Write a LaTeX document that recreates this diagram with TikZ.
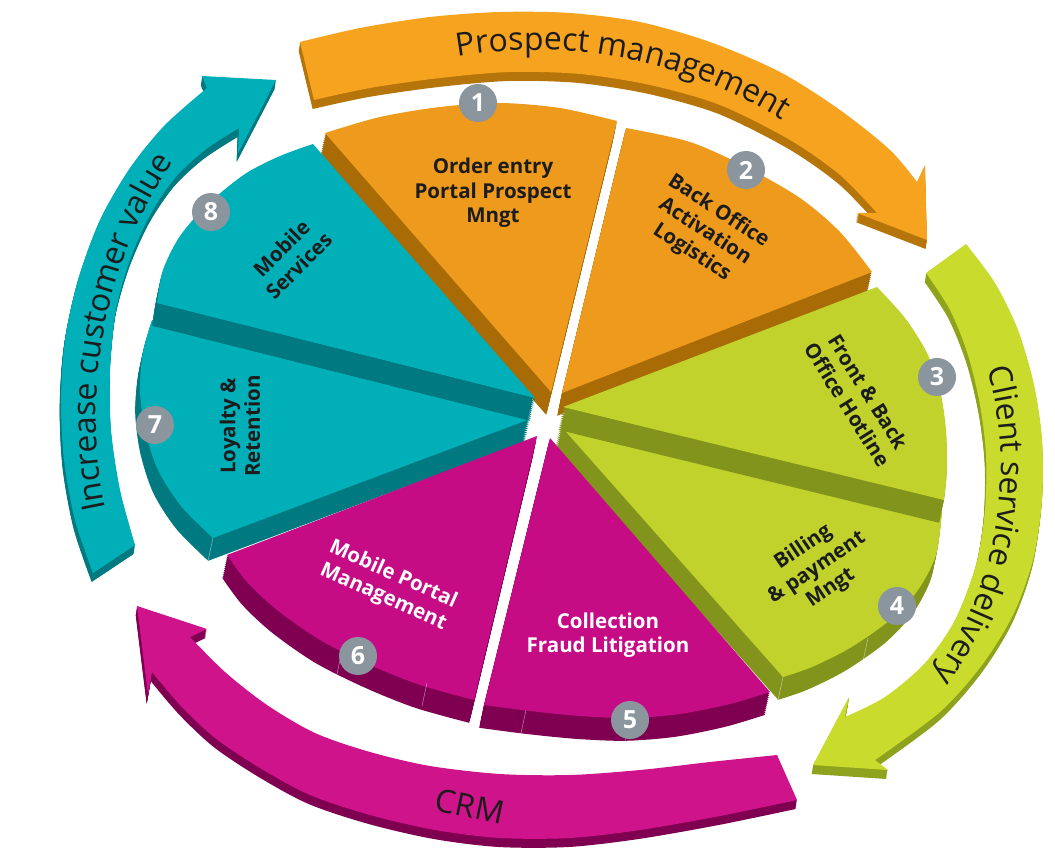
\documentclass[tikz,border=0pt]{standalone}
\usepackage{fontspec}
\setmainfont{Open Sans}
\usetikzlibrary{decorations.text}
\definecolor{orangetop}{HTML}{EE9A1D}
\definecolor{orangeside}{HTML}{A86B06}
\definecolor{orangearrow}{HTML}{F6A31F}
\definecolor{orangearrowside}{HTML}{B5750B}
\definecolor{tealtop}{HTML}{00AFB7}
\definecolor{tealside}{HTML}{007A80}
\definecolor{limetop}{HTML}{C0D22B}
\definecolor{limeside}{HTML}{82941B}
\definecolor{limearrow}{HTML}{C9DB2C}
\definecolor{limearrowside}{HTML}{8FA21E}
\definecolor{magtop}{HTML}{C50C85}
\definecolor{magside}{HTML}{7F0050}
\definecolor{magarrow}{HTML}{CF138B}
\definecolor{badgegrey}{HTML}{8B959E}
\definecolor{ink}{HTML}{1C1C1C}

\begin{document}
\begin{tikzpicture}[x=1pt, y=-1pt, line join=round,
	seclabel/.style={font=\bfseries\fontsize{20.5}{24.5}\selectfont, align=center, text=ink},
	badge/.style={circle, fill=badgegrey, text=white, inner sep=0pt, minimum size=38pt, font=\bfseries\fontsize{25}{25}\selectfont},
	bigtext/.style={font=\fontsize{32}{35}\selectfont, text=ink},
	seam/.style={white, opacity=.45, line width=.6pt}]
	\useasboundingbox (0,0) rectangle (1055,850);
	% pie piece: dark copies pushed down make the wall, then the lid on top
	\def\piece#1#2#3{\foreach \k in {12,...,1}{\fill[#1, shift={(-0.4*\k,1.9*\k)}] #3;}\fill[#2] #3;}
	% same for the flat arrows, only thinner
	\def\band#1#2#3{\foreach \k in {9,...,1}{\fill[#1, shift={(-0.15*\k,\k)}] #3;}\fill[#2] #3;}
	\def\arrowfont{\fontsize{32}{35}\selectfont}
	
	% arrows round the pie
	\band{orangearrowside}{orangearrow}{plot[smooth] coordinates {(300,42) (360,28) (430,17) (500,12) (570,13) (640,22) (710,42) (780,72) (840,110) (890,150) (917,182)}
		-- (925,165) -- (927,240) -- (857,213) -- (877,213)
		-- plot[smooth] coordinates {(877,213) (840,175) (790,140) (720,105) (650,85) (580,74) (510,72) (440,78) (370,88) (314,100)} -- cycle}
	\band{limearrowside}{limearrow}{plot[smooth] coordinates {(966,244) (995,283) (1018,330) (1034,385) (1042,440) (1042,500) (1033,560) (1013,615) (982,665) (940,712) (875,760)}
		-- (888,770) -- (813,765) -- (849,697) -- (845,717)
		-- plot[smooth] coordinates {(845,717) (885,697) (925,663) (955,620) (976,565) (985,510) (986,455) (980,405) (968,355) (950,310) (926,273)} -- cycle}
	\band{magside}{magarrow}{plot[smooth] coordinates {(777,755) (710,762) (640,770) (570,775) (500,774) (430,766) (370,752) (315,733) (267,705) (225,672) (190,637)}
		-- (207,629) -- (137,606) -- (148,695) -- (152,672)
		-- plot[smooth] coordinates {(152,672) (180,705) (215,738) (260,768) (310,795) (370,815) (435,830) (500,838) (570,838) (640,830) (720,816) (797,800)} -- cycle}
	\band{tealside}{tealtop}{plot[smooth] coordinates {(93,573) (75,520) (64,460) (61,400) (65,340) (78,280) (100,220) (130,168) (165,125) (207,88)}
		-- (202,76) -- (276,80) -- (238,153) -- (239,128)
		-- plot[smooth] coordinates {(239,128) (205,150) (175,178) (150,215) (130,260) (116,310) (110,370) (111,430) (120,490) (135,545)} -- cycle}
	
	% words on the arrows, each on a circle of its own
	\path[decorate, decoration={text along path, text align=center, text color=ink, text={|\arrowfont|Prospect management}}]
		(537,515) ++(-125:465) arc[start angle=-125, end angle=-33, radius=465];
	\path[decorate, decoration={text along path, text align=center, text color=ink, text={|\arrowfont|Client service delivery}}]
		(641,466) ++(-30:360) arc[start angle=-30, end angle=50, radius=360];
	\path[decorate, decoration={text along path, text align=center, text color=ink, text={|\arrowfont|Increase customer value}}]
		(550,415) ++(145:454) arc[start angle=145, end angle=237, radius=454];
	\node[bigtext, rotate=-12] (crm) at (470,806) {CRM};
	
	% the eight pieces, back to front
	\piece{orangeside}{orangetop}{plot[smooth] coordinates {(325,133) (380,117) (440,107) (500,103) (560,108) (617,121)} -- (551,392) -- cycle}
	\piece{orangeside}{orangetop}{plot[smooth] coordinates {(626,128) (690,142) (746,167) (800,198) (840,232) (872,272)} -- (562,393) -- cycle}
	\piece{tealside}{tealtop}{plot[smooth] coordinates {(152,320) (143,352) (140,390) (145,430) (158,470) (181,506) (213,538)} -- (530,419) -- cycle}
	\piece{tealside}{tealtop}{plot[smooth] coordinates {(157,303) (163,270) (180,236) (208,204) (245,174) (280,156) (313,144)} -- (535,398) -- cycle}
	\piece{limeside}{limetop}{plot[smooth] coordinates {(942,512) (936,555) (918,590) (890,620) (850,648) (812,667) (783,677)} -- (560,425) -- cycle}
	\piece{limeside}{limetop}{plot[smooth] coordinates {(877,287) (905,318) (927,353) (940,390) (946,430) (947,470) (944,500)} -- (563,407) -- cycle}
	\piece{magside}{magtop}{plot[smooth] coordinates {(474,700) (420,685) (370,665) (320,640) (277,610) (247,582) (227,555)} -- (537,436) -- cycle}
	\piece{magside}{magtop}{plot[smooth] coordinates {(770,692) (730,704) (680,714) (630,718) (580,716) (530,711) (484,705)} -- (550,438) -- cycle}
	
	% fine creases on the walls
	\foreach \x/\y in {213/538, 342/651, 427/683, 526/710, 630/718, 783/677, 868/638}
	\draw[seam] (\x,\y) -- ++(-5,23);
	
	\node[seclabel] (l1) at (493,193) {Order entry\\Portal Prospect\\Mngt};
	\node[seclabel, rotate=-33] (l2) at (705,232) {Back Office\\Activation\\Logistics};
	\node[seclabel, rotate=-58] (l3) at (858,398) {Front \& Back\\Office Hotline};
	\node[seclabel, rotate=34] (l4) at (817,568) {Billing\\\& payment\\Mngt};
	\node[seclabel, text=white] (l5) at (608,635) {Collection\\Fraud Litigation};
	\node[seclabel, text=white, rotate=-24] (l6) at (388,586) {Mobile Portal\\Management};
	\node[seclabel, rotate=90] (l7) at (240,426) {Loyalty \&\\Retention};
	\node[seclabel, rotate=45] (l8) at (290,257) {Mobile\\Services};
	
	\foreach \n/\x/\y in {1/478/103, 2/746/170, 3/937/377, 4/897/606, 5/630/720, 6/358/656, 7/155/425, 8/211/212}
	\node[badge] (b\n) at (\x,\y) {\n};
\end{tikzpicture}
\end{document}
